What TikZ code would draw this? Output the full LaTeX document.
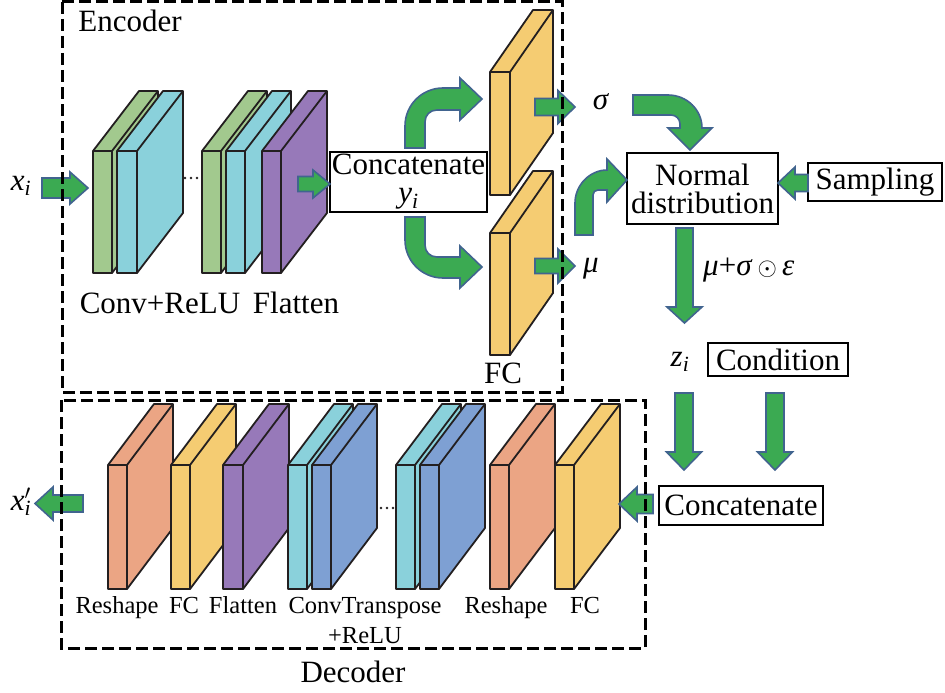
\documentclass[tikz,border=0pt]{standalone}
\usepackage{fontspec}
\setmainfont{Liberation Serif}
\definecolor{agreen}{HTML}{3BAA52}
\definecolor{aborder}{HTML}{41648F}
\definecolor{cgreen}{HTML}{A2C98E}
\definecolor{ccyan}{HTML}{8AD1DB}
\definecolor{cpurple}{HTML}{9779B9}
\definecolor{cyellow}{HTML}{F5CC72}
\definecolor{corange}{HTML}{EBA584}
\definecolor{cblue}{HTML}{7EA0D3}
\definecolor{edgec}{HTML}{231F20}
\newcommand\fsA{\fontsize{31}{34}\selectfont}
\newcommand\fsB{\fontsize{24.5}{30}\selectfont}
% slab: x1 x2 ytop ybot dx rise colour
\newcommand\slab[7]{%
  \filldraw[slabst, fill=#7] (#1,#4) -- (#1,#3) -- ({#1+#5},{#3-#6}) -- ({#2+#5},{#3-#6}) -- ({#2+#5},{#4-#6}) -- (#2,#4) -- cycle;
  \draw[slabst] (#1,#3) -- (#2,#3) -- (#2,#4) (#2,#3) -- ({#2+#5},{#3-#6});}
% horizontal block arrow: xstart xtip yc halfshaft halfhead headlen
\newcommand\harrow[6]{%
  \pgfmathsetmacro\hbase{#2-#6*sign(#2-#1)}%
  \filldraw[blockarrow] (#1,{#3-#4}) -- (\hbase,{#3-#4}) -- (\hbase,{#3-#5}) -- (#2,#3) -- (\hbase,{#3+#5}) -- (\hbase,{#3+#4}) -- (#1,{#3+#4}) -- cycle;}
% vertical block arrow: xc ystart ytip halfshaft halfhead headlen
\newcommand\varrow[6]{%
  \pgfmathsetmacro\hbase{#3-#6*sign(#3-#2)}%
  \filldraw[blockarrow] ({#1-#4},#2) -- ({#1-#4},\hbase) -- ({#1-#5},\hbase) -- (#1,#3) -- ({#1+#5},\hbase) -- ({#1+#4},\hbase) -- ({#1+#4},#2) -- cycle;}
\tikzset{
  slabst/.style={draw=edgec, line width=1.8pt, line join=round},
  blockarrow/.style={fill=agreen, draw=aborder, line width=1.6pt, line join=miter},
  boxst/.style={draw=black, line width=1.8pt, fill=white, inner sep=0pt, align=center, font=\fsA},
  lab/.style={inner sep=0pt, anchor=base, font=\fsA},
  slab/.style={inner sep=0pt, anchor=base, font=\fsB},
  dashbox/.style={draw=black, line width=3pt, dash pattern=on 12pt off 5pt},
}
\begin{document}
\begin{tikzpicture}[x=1pt,y=-1pt]
\fill[white] (0,0) rectangle (945,693);
\useasboundingbox (0,0) rectangle (945,693);

% ---------- encoder slabs ----------
\slab{93}{112}{151}{273}{46}{60}{cgreen}
\slab{117}{137}{151}{273}{46}{60}{ccyan}
\slab{202}{221}{151}{273}{46}{60}{cgreen}
\slab{226}{245}{151}{273}{46}{60}{ccyan}
\slab{262}{281}{151}{273}{46}{60}{cpurple}
\slab{490}{510}{72}{195}{43}{62}{cyellow}
\slab{490}{510}{233}{355}{43}{62}{cyellow}
\foreach \d in {185,191,197} \fill[edgec] (\d,178) circle (1.4);

% ---------- decoder slabs ----------
\slab{108}{127}{465}{589}{46}{61}{corange}
\slab{171}{190}{465}{589}{46}{61}{cyellow}
\slab{223}{243}{465}{589}{46}{61}{cpurple}
\slab{288}{307}{465}{589}{46}{61}{ccyan}
\slab{312}{331}{465}{589}{46}{61}{cblue}
\slab{396}{415}{465}{589}{46}{61}{ccyan}
\slab{420}{439}{465}{589}{46}{61}{cblue}
\slab{490}{509}{465}{589}{46}{61}{corange}
\slab{555}{574}{465}{589}{46}{61}{cyellow}
\foreach \d in {381,387,393} \fill[edgec] (\d,508) circle (1.4);

% ---------- boxes ----------
\node[boxst, minimum width=157pt, minimum height=60pt, font=\fontsize{31}{28}\selectfont] (cat1) at (408.5,182) {Concatenate\\\textit{y}\textsubscript{\textit{i}}};
\node[boxst, minimum width=151pt, minimum height=71pt, font=\fontsize{31}{28}\selectfont] (normal) at (702.5,188.5) {Normal\\distribution};
\node[boxst, minimum width=134pt, minimum height=38pt] (samp) at (875,182) {Sampling};
\node[boxst, minimum width=140pt, minimum height=33pt] (cond) at (778,359.5) {Condition};
\node[boxst, minimum width=164pt, minimum height=39pt] (cat2) at (741,505.5) {Concatenate};

% ---------- straight arrows ----------
\harrow{42}{88}{188}{10}{16}{18}
\harrow{298}{330}{184}{7.5}{14}{17}
\harrow{535}{575}{107}{8.5}{16.5}{17}
\harrow{535}{575}{266}{7.5}{17}{17}
\harrow{808}{778}{183}{8.5}{16}{17}
\varrow{684.5}{228}{323}{8.5}{17.5}{16}
\varrow{684}{393}{470}{9}{17.5}{18}
\varrow{775}{393}{470}{9}{17.5}{18}
\harrow{653}{619}{504}{9.5}{17}{18}
\harrow{83}{35}{503.5}{8.5}{16.5}{18}

% ---------- bent arrows ----------
\filldraw[blockarrow] (405,148) -- (405,126) .. controls (405,105) and (422,88) .. (443,88) -- (460,88) -- (460,78) -- (482,99) -- (460,120) -- (460,110) -- (437,110) .. controls (430,110) and (425,115) .. (425,122) -- (425,148) -- cycle;
\filldraw[blockarrow] (405,217) -- (405,240) .. controls (405,261) and (422,278) .. (443,278) -- (460,278) -- (460,288) -- (482,267) -- (460,246) -- (460,257) -- (437,257) .. controls (430,257) and (425,252) .. (425,245) -- (425,217) -- cycle;
\filldraw[blockarrow] (633,95) -- (668,95) .. controls (687,95) and (702,110) .. (702,128) -- (712,128) -- (690,150) -- (668,128) -- (680,128) -- (680,124) .. controls (680,119) and (676,115) .. (671,115) -- (633,115) -- cycle;
\filldraw[blockarrow] (575,235) -- (575,203) .. controls (575,185) and (590,170) .. (607,170) -- (607,159) -- (627,180) -- (607,202) -- (607,190) -- (598,190) .. controls (595,190) and (593,192) .. (593,195) -- (593,235) -- cycle;

% ---------- labels ----------
\node[lab] (enclab) at (130,32) {Encoder};
\node[lab] (xin) at (21,190) {\textit{x}\textsubscript{\textit{i}}};
\node[lab] (convlab) at (160,313) {Conv+ReLU};
\node[lab] (flatlab) at (296,313) {Flatten};
\node[lab] (fclab) at (503,383) {FC};
\node[lab] (sig) at (601,110) {\textit{σ}};
\node[lab] (mu) at (591,272) {\textit{μ}};
\node[lab, anchor=base west] (reparam) at (703,275) {\textit{μ}+\textit{σ}\,$\odot$\,\textit{ε}};
\node[lab] (zi) at (680,366) {\textit{z}\textsubscript{\textit{i}}};
\node[lab] (xout) at (21,510) {\textit{x}\rlap{\fontsize{22}{22}\selectfont\raisebox{0.5em}{$\prime$}}\textsubscript{\textit{i}}};

\node[slab] (d1) at (117,613) {Reshape};
\node[slab] (d2) at (184,613) {FC};
\node[slab] (d3) at (243,613) {Flatten};
\node[slab] (d4) at (365,613) {ConvTranspose};
\node[slab] (d5) at (365,643) {+ReLU};
\node[slab] (d6) at (506,613) {Reshape};
\node[slab] (d7) at (585,613) {FC};
\node[lab] (declab) at (353,682) {Decoder};

% ---------- dashed frames ----------
\draw[dashbox] (62,2) rectangle (562,392);
\draw[dashbox] (61,400) rectangle (645,648);
\end{tikzpicture}
\end{document}
